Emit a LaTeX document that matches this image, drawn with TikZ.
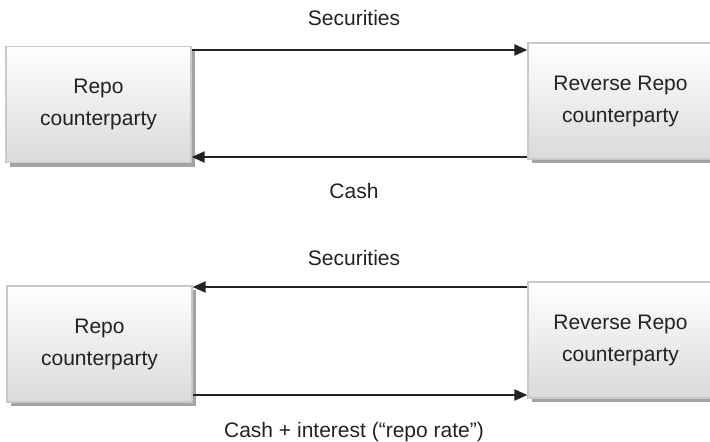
\documentclass[tikz,border=0pt]{standalone}
\usepackage{fontspec}
\setmainfont{Liberation Sans}
\usetikzlibrary{arrows.meta,shadows}
\definecolor{txt}{HTML}{222222}
\definecolor{boxline}{HTML}{C9C9C9}
\definecolor{boxbot}{HTML}{DADADA}
\definecolor{shade}{HTML}{A3A3A3}
\begin{document}
\begin{tikzpicture}[x=1pt,y=-1pt,
  party/.style={rectangle, draw=boxline, line width=1.2pt,
    top color=white, bottom color=boxbot,
    minimum width=185pt, minimum height=116pt, inner sep=0pt,
    align=center, text=txt, font=\fontsize{21}{32}\selectfont,
    drop shadow={shadow xshift=4pt, shadow yshift=-4pt, fill=shade, opacity=1}},
  lbl/.style={text=txt, font=\fontsize{21}{25}\selectfont, anchor=base, inner sep=0pt},
  flow/.style={line width=2pt, draw=txt, -{Triangle[length=13pt,width=11pt]}}]
\useasboundingbox (0,0) rectangle (710,442);
% top pair
\node[party] (tl) at (98.5,104.5) {Repo\\counterparty};
\node[party] (tr) at (620.5,101) {Reverse Repo\\counterparty};
% bottom pair
\node[party] (bl) at (99.5,344) {Repo\\counterparty};
\node[party] (br) at (620.5,340) {Reverse Repo\\counterparty};
% arrows top
\draw[flow] (tl.east |- 0,50) -- (tr.west |- 0,50);
\draw[flow] (tr.west |- 0,157) -- (tl.east |- 0,157);
% arrows bottom
\draw[flow] (br.west |- 0,287) -- (bl.east |- 0,287);
\draw[flow] (bl.east |- 0,395) -- (br.west |- 0,395);
% labels
\node[lbl] (s1) at (354,25) {Securities};
\node[lbl] (c1) at (354,198) {Cash};
\node[lbl] (s2) at (354,265) {Securities};
\node[lbl] (c2) at (354,437) {Cash + interest (“repo rate”)};
\end{tikzpicture}
\end{document}
